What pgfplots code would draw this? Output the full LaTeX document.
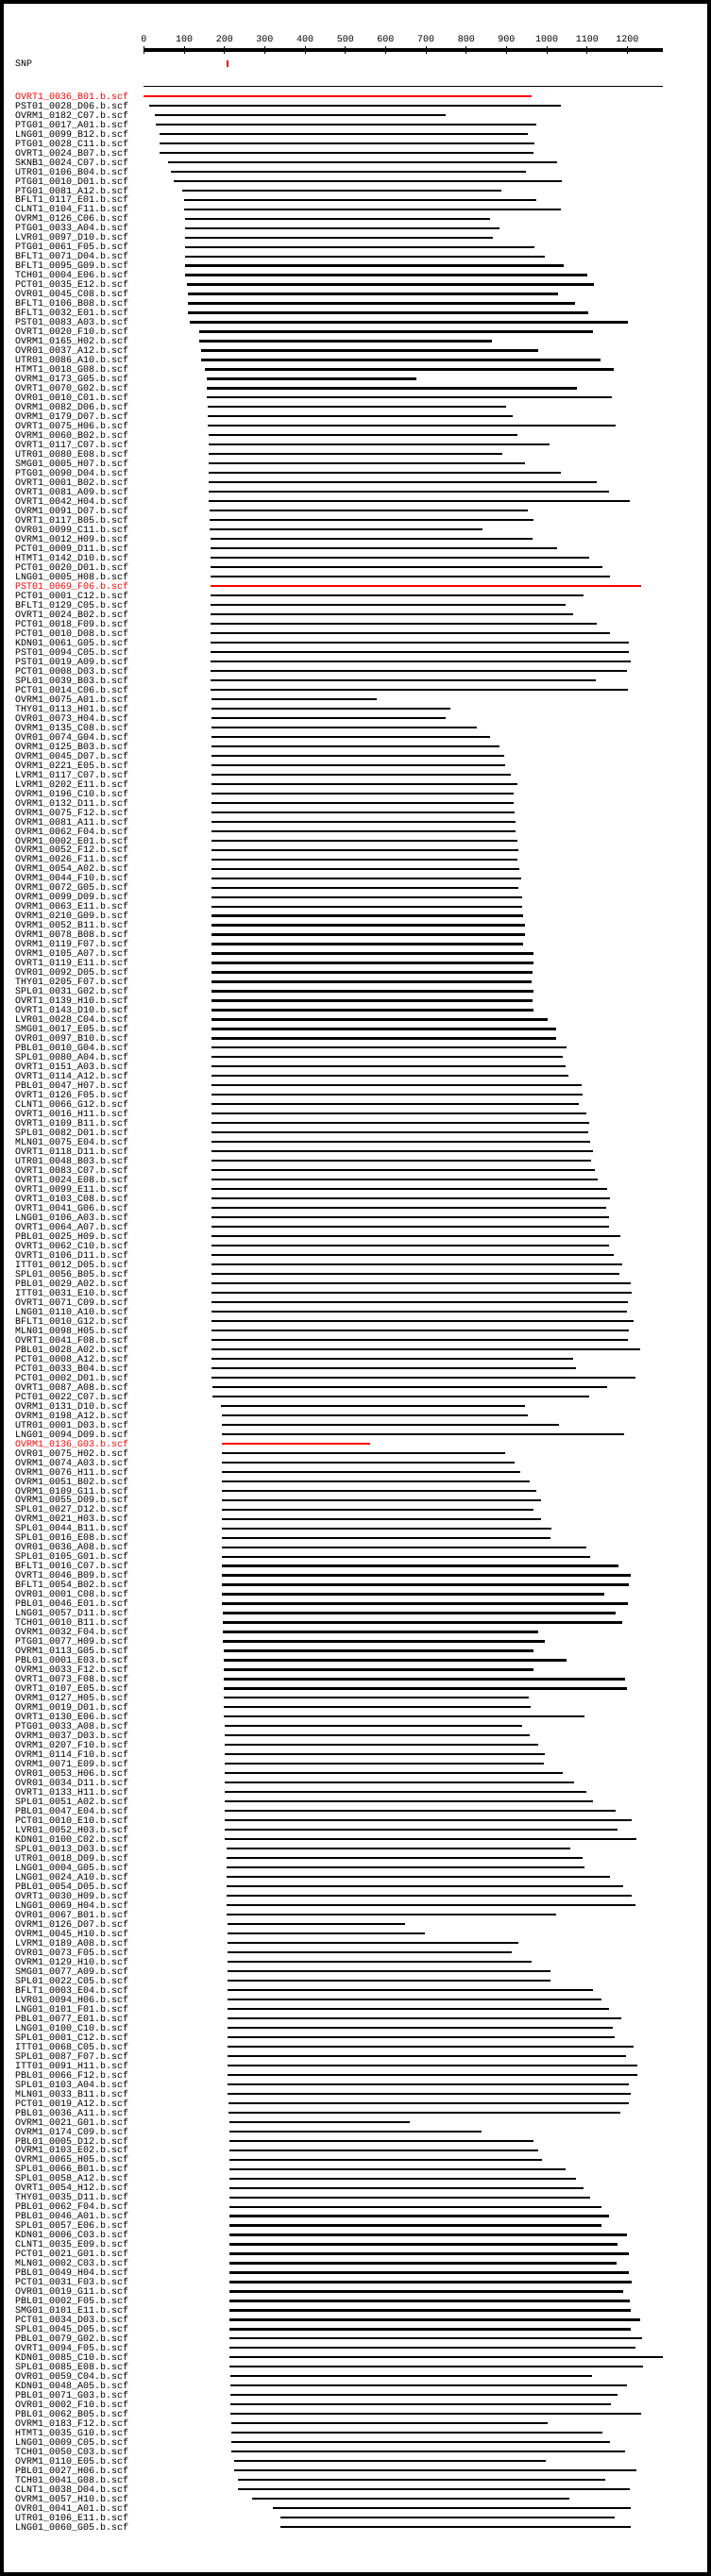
\documentclass[border=0pt]{standalone}
\usepackage{pgfplots}
\usepackage{pgfplotstable}
\usepackage{xcolor}
\usepackage{fontspec}
\setmainfont{Liberation Mono}
\pgfplotsset{compat=1.18}

\pgfplotstableread{
name s e c
\color{red}OVRT1\_0036\_B01.b.scf 0 963 1
PST01\_0028\_D06.b.scf 13 1035 0
OVRM1\_0182\_C07.b.scf 26 748 0
PTG01\_0017\_A01.b.scf 30 974 0
LNG01\_0099\_B12.b.scf 38 954 0
PTG01\_0028\_C11.b.scf 38 969 0
OVRT1\_0024\_B07.b.scf 38 967 0
SKNB1\_0024\_C07.b.scf 60 1025 0
UTR01\_0106\_B04.b.scf 67 948 0
PTG01\_0010\_D01.b.scf 75 1038 0
PTG01\_0081\_A12.b.scf 95 888 0
BFLT1\_0117\_E01.b.scf 100 974 0
CLNT1\_0104\_F11.b.scf 100 1035 0
OVRM1\_0126\_C06.b.scf 103 860 0
PTG01\_0033\_A04.b.scf 103 883 0
LVR01\_0097\_D10.b.scf 103 866 0
PTG01\_0061\_F05.b.scf 103 969 0
BFLT1\_0071\_D04.b.scf 103 995 0
BFLT1\_0095\_G09.b.scf 103 1042 0
TCH01\_0004\_E06.b.scf 103 1100 0
PCT01\_0035\_E12.b.scf 107 1117 0
OVR01\_0045\_C08.b.scf 110 1028 0
BFLT1\_0106\_B08.b.scf 110 1070 0
BFLT1\_0032\_E01.b.scf 110 1103 0
PST01\_0083\_A03.b.scf 114 1201 0
OVRT1\_0020\_F10.b.scf 138 1115 0
OVRM1\_0165\_H02.b.scf 138 864 0
OVR01\_0037\_A12.b.scf 142 979 0
UTR01\_0086\_A10.b.scf 142 1134 0
HTMT1\_0018\_G08.b.scf 151 1166 0
OVRM1\_0173\_G05.b.scf 157 677 0
OVRT1\_0070\_G02.b.scf 157 1075 0
OVR01\_0010\_C01.b.scf 157 1162 0
OVRM1\_0082\_D06.b.scf 159 900 0
OVRM1\_0179\_D07.b.scf 159 916 0
OVRT1\_0075\_H06.b.scf 159 1171 0
OVRM1\_0060\_B02.b.scf 161 926 0
OVRT1\_0117\_C07.b.scf 161 1007 0
UTR01\_0080\_E08.b.scf 161 890 0
SMG01\_0005\_H07.b.scf 161 946 0
PTG01\_0090\_D04.b.scf 161 1035 0
OVRT1\_0001\_B02.b.scf 161 1124 0
OVRT1\_0081\_A09.b.scf 161 1154 0
OVRT1\_0042\_H04.b.scf 161 1206 0
OVRM1\_0091\_D07.b.scf 163 954 0
OVRT1\_0117\_B05.b.scf 163 967 0
OVR01\_0099\_C11.b.scf 163 841 0
OVRM1\_0012\_H09.b.scf 165 965 0
PCT01\_0009\_D11.b.scf 165 1025 0
HTMT1\_0142\_D10.b.scf 165 1105 0
PCT01\_0020\_D01.b.scf 165 1138 0
LNG01\_0005\_H08.b.scf 165 1156 0
\color{red}PST01\_0069\_F06.b.scf 165 1234 1
PCT01\_0001\_C12.b.scf 165 1091 0
BFLT1\_0129\_C05.b.scf 165 1047 0
OVRT1\_0024\_B02.b.scf 165 1066 0
PCT01\_0018\_F09.b.scf 165 1124 0
PCT01\_0010\_D08.b.scf 165 1156 0
KDN01\_0061\_G05.b.scf 165 1203 0
PST01\_0094\_C05.b.scf 165 1203 0
PST01\_0019\_A09.b.scf 165 1208 0
PCT01\_0008\_D03.b.scf 165 1199 0
SPL01\_0039\_B03.b.scf 165 1122 0
PCT01\_0014\_C06.b.scf 165 1201 0
OVRM1\_0075\_A01.b.scf 167 579 0
THY01\_0113\_H01.b.scf 167 761 0
OVR01\_0073\_H04.b.scf 167 748 0
OVRM1\_0135\_C08.b.scf 167 827 0
OVR01\_0074\_G04.b.scf 167 860 0
OVRM1\_0125\_B03.b.scf 167 883 0
OVRM1\_0045\_D07.b.scf 167 894 0
OVRM1\_0221\_E05.b.scf 167 897 0
LVRM1\_0117\_C07.b.scf 167 911 0
LVRM1\_0202\_E11.b.scf 167 928 0
OVRM1\_0196\_C10.b.scf 167 918 0
OVRM1\_0132\_D11.b.scf 167 918 0
OVRM1\_0075\_F12.b.scf 167 920 0
OVRM1\_0081\_A11.b.scf 167 922 0
OVRM1\_0062\_F04.b.scf 167 922 0
OVRM1\_0002\_E01.b.scf 167 926 0
OVRM1\_0052\_F12.b.scf 167 930 0
OVRM1\_0026\_F11.b.scf 167 928 0
OVRM1\_0054\_A02.b.scf 167 932 0
OVRM1\_0044\_F10.b.scf 167 937 0
OVRM1\_0072\_G05.b.scf 167 930 0
OVRM1\_0099\_D09.b.scf 167 939 0
OVRM1\_0063\_E11.b.scf 167 939 0
OVRM1\_0210\_G09.b.scf 167 941 0
OVRM1\_0052\_B11.b.scf 167 946 0
OVRM1\_0078\_B08.b.scf 167 946 0
OVRM1\_0119\_F07.b.scf 167 941 0
OVRM1\_0105\_A07.b.scf 167 967 0
OVRT1\_0119\_E11.b.scf 167 967 0
OVR01\_0092\_D05.b.scf 167 965 0
THY01\_0205\_F07.b.scf 167 963 0
SPL01\_0031\_G02.b.scf 167 967 0
OVRT1\_0139\_H10.b.scf 167 965 0
OVRT1\_0143\_D10.b.scf 167 967 0
LVR01\_0028\_C04.b.scf 167 1002 0
SMG01\_0017\_E05.b.scf 167 1023 0
OVR01\_0097\_B10.b.scf 167 1023 0
PBL01\_0010\_G04.b.scf 167 1049 0
SPL01\_0080\_A04.b.scf 167 1040 0
OVRT1\_0151\_A03.b.scf 167 1047 0
OVRT1\_0114\_A12.b.scf 167 1053 0
PBL01\_0047\_H07.b.scf 167 1087 0
OVRT1\_0126\_F05.b.scf 167 1089 0
CLNT1\_0066\_G12.b.scf 167 1079 0
OVRT1\_0016\_H11.b.scf 167 1098 0
OVRT1\_0109\_B11.b.scf 167 1105 0
SPL01\_0082\_D01.b.scf 167 1103 0
MLN01\_0075\_E04.b.scf 167 1108 0
OVRT1\_0118\_D11.b.scf 167 1115 0
UTR01\_0048\_B03.b.scf 167 1110 0
OVRT1\_0083\_C07.b.scf 167 1119 0
OVRT1\_0024\_E08.b.scf 167 1126 0
OVRT1\_0099\_E11.b.scf 167 1150 0
OVRT1\_0103\_C08.b.scf 167 1156 0
OVRT1\_0041\_G06.b.scf 167 1147 0
LNG01\_0106\_A03.b.scf 167 1154 0
OVRT1\_0064\_A07.b.scf 167 1154 0
PBL01\_0025\_H09.b.scf 167 1182 0
OVRT1\_0062\_C10.b.scf 167 1154 0
OVRT1\_0106\_D11.b.scf 167 1166 0
ITT01\_0012\_D05.b.scf 167 1188 0
SPL01\_0056\_B05.b.scf 167 1180 0
PBL01\_0029\_A02.b.scf 167 1208 0
ITT01\_0031\_E10.b.scf 167 1211 0
OVRT1\_0071\_C09.b.scf 167 1201 0
LNG01\_0110\_A10.b.scf 167 1199 0
BFLT1\_0010\_G12.b.scf 167 1216 0
MLN01\_0098\_H05.b.scf 167 1203 0
OVRT1\_0041\_F08.b.scf 167 1201 0
PBL01\_0028\_A02.b.scf 167 1231 0
PCT01\_0008\_A12.b.scf 167 1066 0
PCT01\_0033\_B04.b.scf 167 1072 0
PCT01\_0002\_D01.b.scf 167 1220 0
OVRT1\_0087\_A08.b.scf 169 1150 0
PCT01\_0022\_C07.b.scf 171 1105 0
OVRM1\_0131\_D10.b.scf 190 946 0
OVRM1\_0198\_A12.b.scf 193 952 0
UTR01\_0001\_D03.b.scf 193 1031 0
LNG01\_0094\_D09.b.scf 193 1192 0
\color{red}OVRM1\_0136\_G03.b.scf 193 562 1
OVR01\_0075\_H02.b.scf 193 897 0
OVRM1\_0074\_A03.b.scf 193 920 0
OVRM1\_0076\_H11.b.scf 193 935 0
OVRM1\_0051\_B02.b.scf 193 958 0
OVRM1\_0109\_G11.b.scf 193 974 0
OVRM1\_0055\_D09.b.scf 193 986 0
SPL01\_0027\_D12.b.scf 193 967 0
OVRM1\_0021\_H03.b.scf 193 986 0
SPL01\_0044\_B11.b.scf 193 1012 0
SPL01\_0016\_E08.b.scf 193 1010 0
OVR01\_0036\_A08.b.scf 193 1098 0
SPL01\_0105\_G01.b.scf 193 1108 0
BFLT1\_0016\_C07.b.scf 193 1178 0
OVRT1\_0046\_B09.b.scf 193 1208 0
BFLT1\_0054\_B02.b.scf 193 1203 0
OVR01\_0001\_C08.b.scf 193 1143 0
PBL01\_0046\_E01.b.scf 193 1201 0
LNG01\_0057\_D11.b.scf 195 1171 0
TCH01\_0010\_B11.b.scf 195 1188 0
OVRM1\_0032\_F04.b.scf 195 979 0
PTG01\_0077\_H09.b.scf 195 995 0
OVRM1\_0113\_G05.b.scf 197 967 0
PBL01\_0001\_E03.b.scf 197 1049 0
OVRM1\_0033\_F12.b.scf 199 967 0
OVRT1\_0073\_F08.b.scf 199 1194 0
OVRT1\_0107\_E05.b.scf 199 1199 0
OVRM1\_0127\_H05.b.scf 199 956 0
OVRM1\_0019\_D01.b.scf 199 960 0
OVRT1\_0130\_E06.b.scf 199 1094 0
PTG01\_0033\_A08.b.scf 201 939 0
OVRM1\_0037\_D03.b.scf 201 958 0
OVRM1\_0207\_F10.b.scf 201 979 0
OVRM1\_0114\_F10.b.scf 201 995 0
OVRM1\_0071\_E09.b.scf 201 993 0
OVR01\_0053\_H06.b.scf 201 1040 0
OVR01\_0034\_D11.b.scf 201 1068 0
OVRT1\_0133\_H11.b.scf 201 1098 0
SPL01\_0051\_A02.b.scf 201 1115 0
PBL01\_0047\_E04.b.scf 201 1171 0
PCT01\_0010\_E10.b.scf 201 1211 0
LVR01\_0052\_H03.b.scf 201 1175 0
KDN01\_0100\_C02.b.scf 201 1222 0
SPL01\_0013\_D03.b.scf 205 1059 0
UTR01\_0018\_D09.b.scf 205 1089 0
LNG01\_0004\_G05.b.scf 205 1094 0
LNG01\_0024\_A10.b.scf 205 1156 0
PBL01\_0054\_D05.b.scf 205 1190 0
OVRT1\_0030\_H09.b.scf 205 1211 0
LNG01\_0069\_H04.b.scf 205 1220 0
OVR01\_0067\_B01.b.scf 205 1023 0
OVRM1\_0126\_D07.b.scf 207 649 0
OVRM1\_0045\_H10.b.scf 207 698 0
LVRM1\_0189\_A08.b.scf 207 930 0
OVR01\_0073\_F05.b.scf 207 913 0
OVRM1\_0129\_H10.b.scf 207 963 0
SMG01\_0077\_A09.b.scf 207 1010 0
SPL01\_0022\_C05.b.scf 207 1010 0
BFLT1\_0003\_E04.b.scf 207 1115 0
LVR01\_0094\_H06.b.scf 207 1136 0
LNG01\_0101\_F01.b.scf 207 1154 0
PBL01\_0077\_E01.b.scf 207 1185 0
LNG01\_0100\_C10.b.scf 207 1164 0
SPL01\_0001\_C12.b.scf 207 1169 0
ITT01\_0068\_C05.b.scf 207 1216 0
SPL01\_0087\_F07.b.scf 207 1197 0
ITT01\_0091\_H11.b.scf 207 1225 0
PBL01\_0066\_F12.b.scf 207 1225 0
SPL01\_0103\_A04.b.scf 207 1203 0
MLN01\_0033\_B11.b.scf 207 1208 0
PCT01\_0019\_A12.b.scf 209 1203 0
PBL01\_0036\_A11.b.scf 209 1182 0
OVRM1\_0021\_G01.b.scf 212 660 0
OVRM1\_0174\_C09.b.scf 212 838 0
PBL01\_0005\_D12.b.scf 212 967 0
OVRM1\_0103\_E02.b.scf 212 979 0
OVRM1\_0065\_H05.b.scf 212 988 0
SPL01\_0066\_B01.b.scf 212 1047 0
SPL01\_0058\_A12.b.scf 212 1072 0
OVRT1\_0054\_H12.b.scf 212 1091 0
THY01\_0035\_D11.b.scf 212 1108 0
PBL01\_0062\_F04.b.scf 212 1136 0
PBL01\_0046\_A01.b.scf 212 1154 0
SPL01\_0057\_E06.b.scf 212 1136 0
KDN01\_0006\_C03.b.scf 212 1199 0
CLNT1\_0035\_E09.b.scf 212 1175 0
PCT01\_0021\_G01.b.scf 212 1203 0
MLN01\_0002\_C03.b.scf 212 1173 0
PBL01\_0049\_H04.b.scf 212 1203 0
PCT01\_0031\_F03.b.scf 212 1211 0
OVR01\_0019\_G11.b.scf 212 1190 0
PBL01\_0002\_F05.b.scf 212 1206 0
SMG01\_0101\_E11.b.scf 212 1208 0
PCT01\_0034\_D03.b.scf 212 1231 0
SPL01\_0045\_D05.b.scf 212 1208 0
PBL01\_0079\_G02.b.scf 212 1237 0
OVRT1\_0094\_F05.b.scf 212 1220 0
KDN01\_0085\_C10.b.scf 212 1288 0
SPL01\_0085\_E08.b.scf 212 1239 0
OVR01\_0059\_C04.b.scf 214 1113 0
KDN01\_0048\_A05.b.scf 214 1199 0
PBL01\_0071\_G03.b.scf 214 1175 0
OVR01\_0002\_F10.b.scf 214 1160 0
PBL01\_0062\_B05.b.scf 214 1234 0
OVRM1\_0183\_F12.b.scf 216 1002 0
HTMT1\_0035\_G10.b.scf 216 1138 0
LNG01\_0009\_C05.b.scf 216 1156 0
TCH01\_0050\_C03.b.scf 216 1194 0
OVRM1\_0110\_E05.b.scf 223 997 0
PBL01\_0027\_H06.b.scf 223 1222 0
TCH01\_0041\_G08.b.scf 233 1145 0
CLNT1\_0038\_D04.b.scf 233 1206 0
OVRM1\_0057\_H10.b.scf 268 1057 0
OVR01\_0041\_A01.b.scf 321 1208 0
UTR01\_0106\_E11.b.scf 338 1169 0
LNG01\_0060\_G05.b.scf 338 1208 0
}\rows

\pgfplotstableread{
t lab
0 0
100 100
200 200
300 300
400 400
500 500
600 600
700 700
800 800
900 900
1000 1000
1100 1100
1200 1200
}\ticks

\begin{document}
\begin{tikzpicture}
\begin{axis}[
  scale only axis,
  width=750pt, height=2730pt,
  xmin=-352.7, xmax=1402.7,
  ymin=-10, ymax=263,
  y dir=reverse,
  axis line style={line width=4pt, black},
  xtick=\empty,
  ytick={0,...,258},
  yticklabels from table={\rows}{name},
  major tick length=0pt,
  ytick style={draw=none},
  yticklabel style={anchor=base west, xshift=14pt, yshift=-3.3pt, inner sep=0pt,
    font=\fontsize{10}{10}\selectfont},
  clip=false,
]
% ruler
\addplot[black, line width=4pt, no markers] coordinates {(0,-4.87) (1287,-4.87)};
\addplot[black, line width=1pt, no markers, -, quiver={u=0, v=0.75}] table[x=t, y expr=-5.25] {\ticks};
\addplot[draw=none, no markers, nodes near coords, point meta=explicit symbolic,
  every node near coord/.append style={anchor=center, inner sep=0pt, font=\fontsize{10}{10}\selectfont}]
  table[x=t, y expr=-6.1, meta=lab] {\ticks};
% SNP
\addplot[draw=none, no markers, nodes near coords, point meta=explicit symbolic,
  every node near coord/.append style={anchor=west, inner sep=0pt, font=\fontsize{10}{10}\selectfont}]
  coordinates {(-320,-3.47) [SNP]};
\addplot[red, line width=2.5pt, no markers] coordinates {(208,-3.78) (208,-3.1)};
% separator
\addplot[black, line width=1pt, no markers] coordinates {(0,-1) (1287,-1)};
% reads
\addplot[black, line width=2.2pt, no markers, -, quiver={u=\thisrow{e}-\thisrow{s}, v=0},
  restrict expr to domain={\thisrow{c}}{0:0}] table[x=s, y expr=\coordindex] {\rows};
\addplot[red, line width=2.2pt, no markers, -, quiver={u=\thisrow{e}-\thisrow{s}, v=0},
  restrict expr to domain={\thisrow{c}}{1:1}] table[x=s, y expr=\coordindex] {\rows};
\end{axis}
\end{tikzpicture}
\end{document}
